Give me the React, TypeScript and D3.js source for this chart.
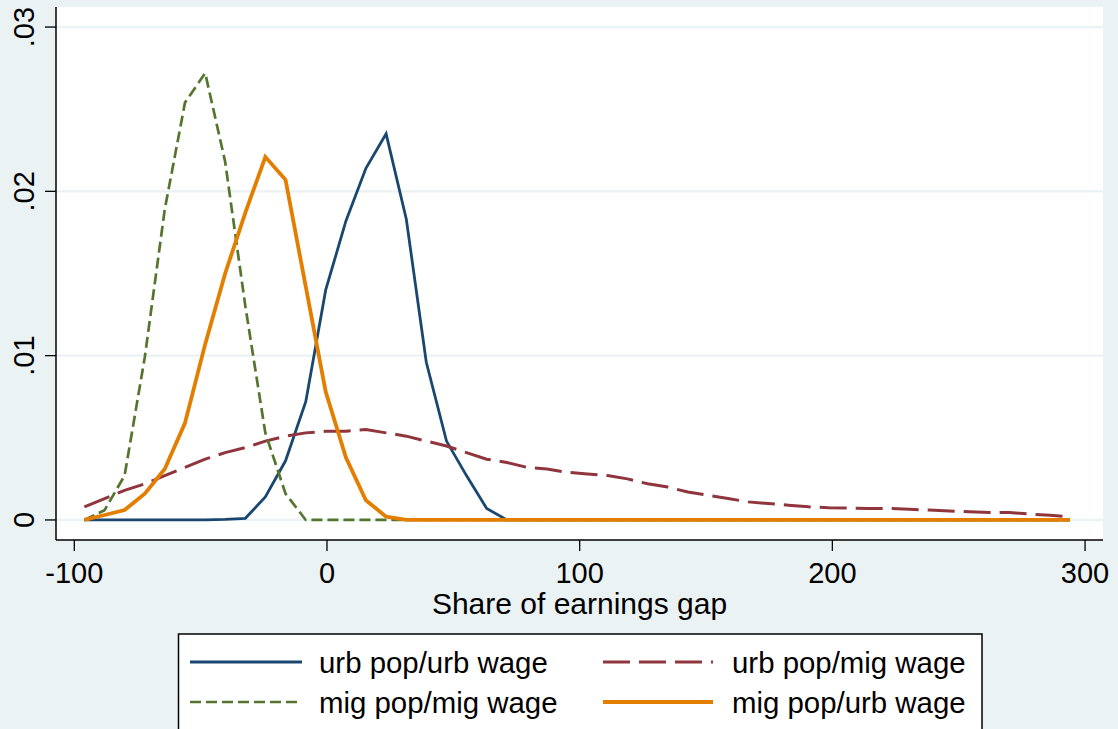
import React from 'react';
import * as d3 from 'd3';

// evaluation grid of the kernel densities (share of earnings gap)
const gridX = [
  -96.0, -88.0, -80.1, -72.1, -64.2, -56.2, -48.2, -40.3, -32.3, -24.4,
  -16.4, -8.4, -0.5, 7.5, 15.4, 23.4, 31.4, 39.3, 47.3, 55.2,
  63.2, 71.2, 79.1, 87.1, 95.0, 103.0, 111.0, 118.9, 126.9, 134.8,
  142.8, 150.8, 158.7, 166.7, 174.6, 182.6, 190.6, 198.5, 206.5, 214.4,
  222.4, 230.4, 238.3, 246.3, 254.2, 262.2, 270.2, 278.1, 286.1, 294.0,
];

const urbUrb = [
  0, 0, 0, 0, 0, 0, 0, 0.00003, 0.0001, 0.0014,
  0.0036, 0.0072, 0.0140, 0.0182, 0.0214, 0.0235, 0.0183, 0.0096, 0.0048, 0.0027,
  0.0007, 0, 0, 0, 0, 0, 0, 0, 0, 0,
  0, 0, 0, 0, 0, 0, 0, 0, 0, 0,
  0, 0, 0, 0, 0, 0, 0, 0, 0, 0,
];

const urbMig = [
  0.0008, 0.0013, 0.0018, 0.0022, 0.0027, 0.0032, 0.0037, 0.0041, 0.0044, 0.0048,
  0.0051, 0.0053, 0.0054, 0.0054, 0.0055, 0.0053, 0.0051, 0.0048, 0.0045, 0.0041,
  0.0037, 0.0035, 0.0032, 0.0031, 0.0029, 0.0028, 0.0027, 0.0025, 0.0022, 0.0020,
  0.0017, 0.0015, 0.0013, 0.0011, 0.0010, 0.0009, 0.0008, 0.00075, 0.00073, 0.0007,
  0.0007, 0.00065, 0.0006, 0.00055, 0.0005, 0.00045, 0.00045, 0.00036, 0.00028, 0.0002,
];

const migMig = [
  0, 0.0006, 0.0027, 0.0099, 0.0189, 0.0254, 0.0272, 0.0218, 0.0130, 0.0053,
  0.0016, 0, 0, 0, 0, 0, 0, 0, 0, 0,
  0, 0, 0, 0, 0, 0, 0, 0, 0, 0,
  0, 0, 0, 0, 0, 0, 0, 0, 0, 0,
  0, 0, 0, 0, 0, 0, 0, 0, 0, 0,
];

const migUrb = [
  0, 0.0003, 0.0006, 0.0016, 0.0031, 0.0059, 0.0107, 0.0150, 0.0187, 0.0221,
  0.0207, 0.0142, 0.0078, 0.0038, 0.0012, 0.0002, 0, 0, 0, 0,
  0, 0, 0, 0, 0, 0, 0, 0, 0, 0,
  0, 0, 0, 0, 0, 0, 0, 0, 0, 0,
  0, 0, 0, 0, 0, 0, 0, 0, 0, 0,
];

const xTicks = [-100, 0, 100, 200, 300];
const yTicks = [0, 0.01, 0.02, 0.03];
const yTickLabels = ['0', '.01', '.02', '.03'];

const seriesNames = ['urb pop/urb wage', 'urb pop/mig wage', 'mig pop/mig wage', 'mig pop/urb wage'];
const seriesValues = [urbUrb, urbMig, migMig, migUrb];
const seriesColors = ['#1a476f', '#90353b', '#55752f', '#e37e00'];
const seriesWidths = [2.8, 3, 2.7, 3.8];
const seriesDash = [null, '27,9', '11,5', null];

const W = 1118;
const H = 729;
const BG = '#eaf2f3';
const FONT = '"Liberation Sans", Arial, Helvetica, sans-serif';

export default function App() {
  const left = 56, right = 1103, top = 7, bottom = 540;

  const x = d3.scaleLinear().domain([-107.24, 307.1]).range([left, right]);
  const y = d3.scaleLinear().domain([-0.00122, 0.03122]).range([bottom, top]);

  const line = d3.line<number>()
    .x((d, i) => x(gridX[i]))
    .y(d => y(d));

  // legend layout
  const legLeft = 178.5, legTop = 634, legRight = 982;
  const legCols = [{ x1: 190, x2: 302, tx: 319 }, { x1: 603, x2: 713, tx: 732 }];
  const legRows = [662, 702];

  return (
    <svg width={W} height={H} style={{ position: 'absolute', left: 0, top: 0, display: 'block' }}
      fontFamily={FONT}>
      <rect x={0} y={0} width={W} height={H} fill={BG} />
      <rect x={left} y={top} width={right - left} height={bottom - top} fill="#ffffff" />

      {yTicks.map(t => (
        <line key={'g' + t} x1={left} x2={right} y1={y(t)} y2={y(t)} stroke={BG} strokeWidth={2.2} />
      ))}

      {seriesValues.map((vals, k) => (
        <path key={seriesNames[k]} d={line(vals) || ''} fill="none"
          stroke={seriesColors[k]} strokeWidth={seriesWidths[k]}
          strokeDasharray={seriesDash[k] || undefined} />
      ))}

      {/* y axis */}
      <line x1={left} x2={left} y1={top} y2={bottom} stroke="#000" strokeWidth={1.5} />
      {yTicks.map((t, i) => (
        <g key={'yt' + t}>
          <line x1={left - 11} x2={left} y1={y(t)} y2={y(t)} stroke="#000" strokeWidth={1.3} />
          <text transform={`translate(34,${y(t)}) rotate(-90)`} textAnchor="middle" fontSize={29} fill="#000">
            {yTickLabels[i]}
          </text>
        </g>
      ))}

      {/* x axis */}
      <line x1={left} x2={right} y1={bottom} y2={bottom} stroke="#000" strokeWidth={1.5} />
      {xTicks.map(t => (
        <g key={'xt' + t}>
          <line x1={x(t)} x2={x(t)} y1={bottom} y2={bottom + 11} stroke="#000" strokeWidth={1.3} />
          <text x={x(t)} y={583} textAnchor="middle" fontSize={29} fill="#000">{t}</text>
        </g>
      ))}
      <text x={(left + right) / 2} y={614} textAnchor="middle" fontSize={30} fill="#000">
        Share of earnings gap
      </text>

      {/* legend */}
      <rect x={legLeft} y={legTop} width={legRight - legLeft} height={120} fill="#ffffff"
        stroke="#000" strokeWidth={1.5} />
      {seriesNames.map((name, k) => {
        const c = legCols[k % 2];
        const ry = legRows[Math.floor(k / 2)];
        return (
          <g key={'leg' + name}>
            <line x1={c.x1} x2={c.x2} y1={ry} y2={ry} stroke={seriesColors[k]}
              strokeWidth={seriesWidths[k]} strokeDasharray={seriesDash[k] || undefined} />
            <text x={c.tx} y={ry + 11} fontSize={29.4} fill="#000">{name}</text>
          </g>
        );
      })}
    </svg>
  );
}
